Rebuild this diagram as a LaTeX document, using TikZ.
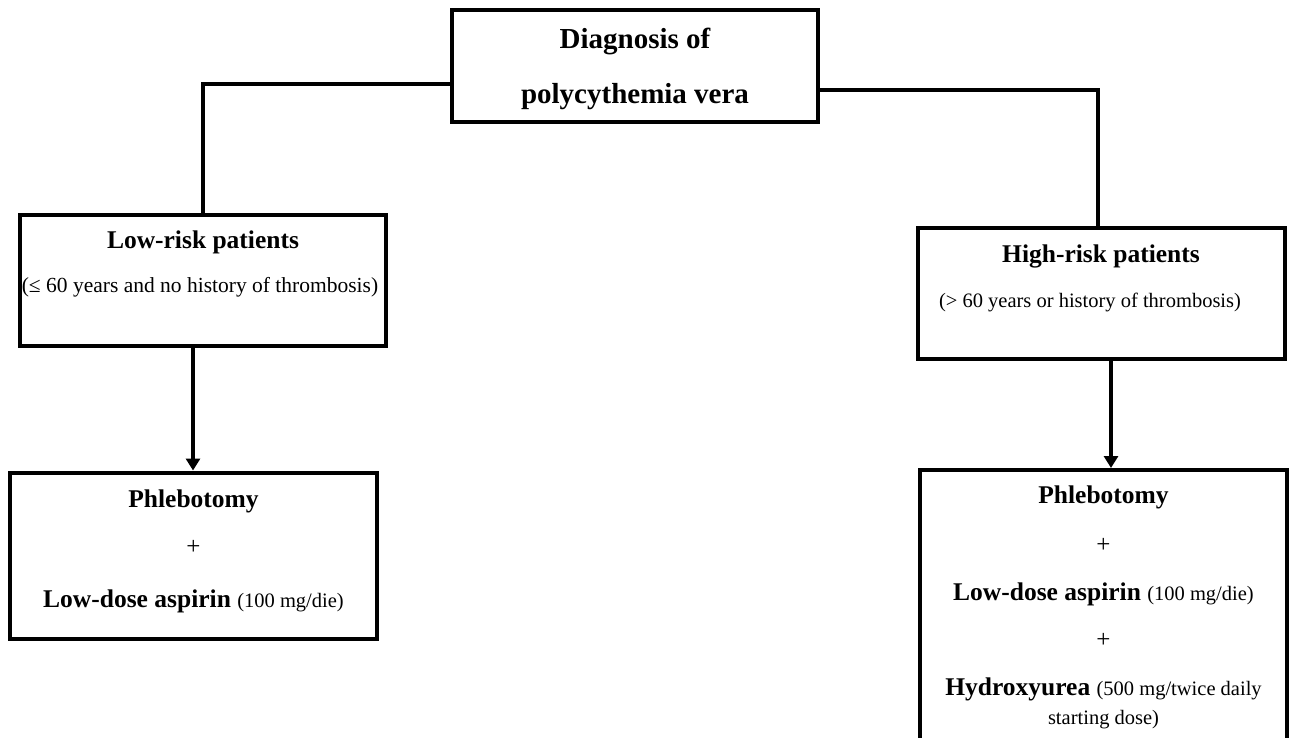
\documentclass[tikz,border=0pt]{standalone}
\usepackage{fontspec}
\setmainfont{Liberation Serif}
\usetikzlibrary{arrows.meta}
\tikzset{
  box/.style={draw=black, line width=4pt, fill=white, inner sep=0pt},
  conn/.style={draw=black, line width=4pt},
  arr/.style={conn, -{Triangle[width=14pt,length=12pt]}},
  ttl/.style={font=\fontsize{25.5}{28}\selectfont\bfseries, anchor=base, inner sep=0pt},
  sub/.style={font=\fontsize{20.5}{23}\selectfont, anchor=base, inner sep=0pt},
  plus/.style={font=\fontsize{25}{26}\selectfont, anchor=center, inner sep=0pt},
}
\newcommand{\paren}[1]{{\fontsize{20.5}{23}\selectfont\mdseries #1}}
\begin{document}
\begin{tikzpicture}[x=1pt,y=-1pt]
\useasboundingbox (0,0) rectangle (1291,738);
\clip (0,0) rectangle (1291,738);
% boxes
\node[box, minimum width=366pt, minimum height=112pt] (top) at (635,66) {};
\node[box, minimum width=366pt, minimum height=130pt] (low) at (203,280.5) {};
\node[box, minimum width=367pt, minimum height=130pt] (high) at (1101.5,293.5) {};
\node[box, minimum width=367pt, minimum height=166pt] (lowt) at (193.5,555.5) {};
\node[box, minimum width=367pt, minimum height=300pt] (hight) at (1103.5,620) {};
% connectors
\coordinate (tl) at (top.west |- 0,84);
\coordinate (tr) at (top.east |- 0,90);
\coordinate (lowin) at (low.north);
\coordinate (highin) at (high.north -| 1098,0);
\draw[conn] (tl) -| (lowin);
\draw[conn] (tr) -| (highin);
\coordinate (la) at (low.south -| 193,0);
\coordinate (ha) at (high.south -| 1111,0);
\draw[arr] (la) -- (la |- lowt.north);
\draw[arr] (ha) -- (ha |- hight.north);
% texts
\node[ttl, font=\fontsize{29}{30}\selectfont\bfseries] (t1) at (635,49) {Diagnosis of};
\node[ttl, font=\fontsize{29}{30}\selectfont\bfseries] (t2) at (635,104) {polycythemia vera};
\node[ttl] (l1) at (203,249) {Low-risk patients};
\node[sub, font=\fontsize{21.5}{23}\selectfont] (l2) at (200,292) {(≤ 60 years and no history of thrombosis)};
\node[ttl] (h1) at (1101,263) {High-risk patients};
\node[sub] (h2) at (1090,308) {(> 60 years or history of thrombosis)};
\node[ttl] (lt1) at (193.5,507) {Phlebotomy};
\node[plus] (lt2) at (193.5,547) {+};
\node[ttl] (lt3) at (193.5,607) {Low-dose aspirin \paren{(100 mg/die)}};
\node[ttl] (ht1) at (1103.5,503) {Phlebotomy};
\node[plus] (ht2) at (1103.5,545) {+};
\node[ttl] (ht3) at (1103.5,600) {Low-dose aspirin \paren{(100 mg/die)}};
\node[plus] (ht4) at (1103.5,640) {+};
\node[ttl] (ht5) at (1103.5,695) {Hydroxyurea \paren{(500 mg/twice daily}};
\node[sub] (ht6) at (1103.5,724) {starting dose)};
\end{tikzpicture}
\end{document}
